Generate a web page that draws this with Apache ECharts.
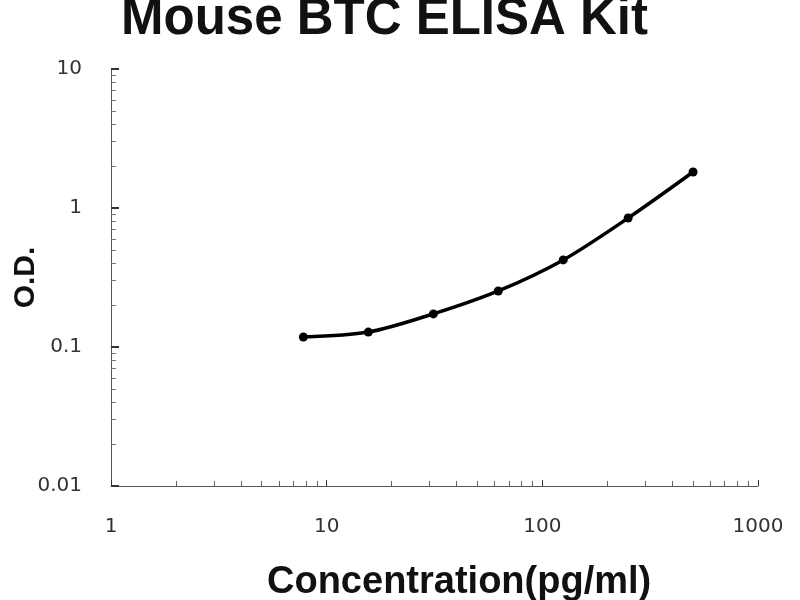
<!DOCTYPE html>
<html>
<head>
<meta charset="utf-8">
<script src="https://cdn.jsdelivr.net/npm/echarts@6/dist/echarts.min.js"></script>
<style>
  html, body { margin: 0; padding: 0; background: #fff; }
  #chart { width: 800px; height: 600px; }
</style>
</head>
<body>
<div id="chart"></div>
<script>
// standard curve (pg/ml vs O.D.)
const concentration = [7.8, 15.6, 31.25, 62.5, 125, 250, 500];
const od = [0.118, 0.128, 0.173, 0.253, 0.423, 0.847, 1.815];
const xTicks = [1, 10, 100, 1000];
const yTicks = [0.01, 0.1, 1, 10];

// minor tick positions 2..9 inside each decade
function minorTicks(majors) {
  const out = [];
  for (let i = 0; i < majors.length - 1; i++) {
    for (let k = 2; k <= 9; k++) out.push(majors[i] * k);
  }
  return out;
}

const chart = echarts.init(document.getElementById('chart'));
const font = 'Liberation Sans, Arial, sans-serif';
const labelFont = 'DejaVu Sans, sans-serif';
const axisColor = '#555';

const logAxis = (ticks, extra) => Object.assign({
  type: 'log',
  logBase: 10,
  min: ticks[0],
  max: ticks[ticks.length - 1],
  splitLine: { show: false },
  axisLine: { lineStyle: { color: axisColor, width: 1 } }
}, extra);

chart.setOption({
  animation: false,
  title: [{
    text: 'Mouse BTC ELISA Kit',
    left: 116,
    top: -11,
    textStyle: { fontFamily: font, fontSize: 51, fontWeight: 'bold', color: '#111' }
  }, {
    text: 'Concentration(pg/ml)',
    left: 262,
    top: 559,
    textStyle: { fontFamily: font, fontSize: 38, fontWeight: 'bold', color: '#111' }
  }],
  grid: { left: 111, right: 42, top: 69, bottom: 114, containLabel: false, outerBoundsMode: 'none' },
  xAxis: [
    logAxis(xTicks, {
      axisTick: { show: true, inside: true, length: 6, customValues: xTicks, lineStyle: { color: '#333' } },
      axisLabel: {
        customValues: xTicks, margin: 31, fontFamily: labelFont, fontSize: 20, color: '#333',
        formatter: v => String(v)
      }
    }),
    logAxis(xTicks, {
      position: 'bottom',
      axisLine: { show: false },
      axisTick: { show: true, inside: true, length: 5, customValues: minorTicks(xTicks), lineStyle: { color: '#666' } },
      axisLabel: { show: false }
    })
  ],
  yAxis: [
    logAxis(yTicks, {
      name: 'O.D.',
      nameLocation: 'middle',
      nameGap: 70,
      nameMoveOverlap: false,
      nameTextStyle: { fontFamily: font, fontSize: 30, fontWeight: 'bold', color: '#111' },
      axisTick: { show: true, inside: true, length: 8, customValues: yTicks, lineStyle: { color: '#333', width: 2 } },
      axisLabel: {
        customValues: yTicks, margin: 29, fontFamily: labelFont, fontSize: 20, color: '#333',
        formatter: v => String(v)
      }
    }),
    logAxis(yTicks, {
      position: 'left',
      axisLine: { show: false },
      axisTick: { show: true, inside: true, length: 5, customValues: minorTicks(yTicks), lineStyle: { color: '#777' } },
      axisLabel: { show: false }
    })
  ],
  series: [{
    type: 'line',
    data: concentration.map((c, i) => [c, od[i]]),
    smooth: 0.3,
    symbol: 'circle',
    symbolSize: 9,
    lineStyle: { color: '#000', width: 3.5 },
    itemStyle: { color: '#000' }
  }]
});
</script>
</body>
</html>
